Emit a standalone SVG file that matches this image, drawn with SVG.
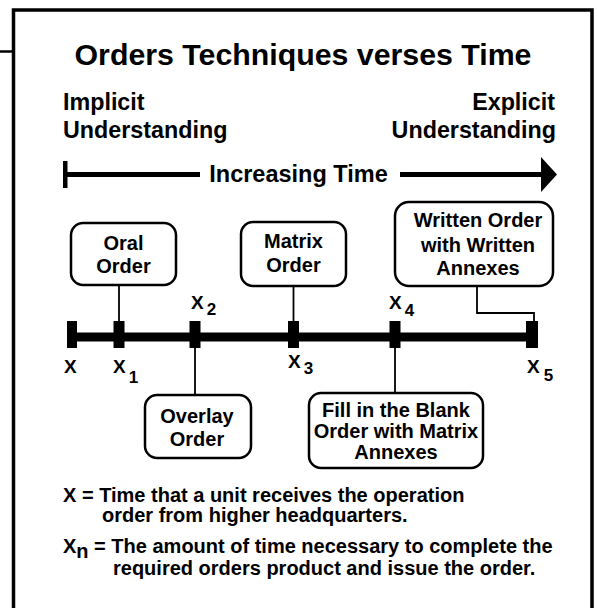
<svg xmlns="http://www.w3.org/2000/svg" width="597" height="608" viewBox="0 0 597 608">
<style>
text{font-family:"Liberation Sans",Arial,sans-serif;font-weight:bold;fill:#000}
.box{fill:#fff;stroke:#000;stroke-width:2.5}
.bt{font-size:20px;text-anchor:middle}
.lbl{font-size:19px}
.sub{font-size:17px}
.con{stroke:#000;stroke-width:1.8;fill:none}
.tick{fill:#000}
</style>
<rect width="597" height="608" fill="#fff"/>
<g id="frame">
<path d="M13.5,608 V10 H592 V608" fill="none" stroke="#000" stroke-width="3.5"/>
<line x1="0" y1="51.5" x2="13" y2="51.5" stroke="#000" stroke-width="2.5"/>
</g>
<text x="303" y="65" font-size="30.3" text-anchor="middle">Orders Techniques verses Time</text>
<text x="63" y="110" font-size="23.3">Implicit</text>
<text x="63" y="138" font-size="23.3">Understanding</text>
<text x="555" y="110" font-size="23.3" text-anchor="end">Explicit</text>
<text x="556" y="138" font-size="23.3" text-anchor="end">Understanding</text>
<g id="time-arrow">
<line x1="63" y1="174.5" x2="200" y2="174.5" stroke="#000" stroke-width="5"/>
<rect x="63" y="161" width="4.5" height="27" fill="#000"/>
<line x1="400" y1="174.5" x2="543" y2="174.5" stroke="#000" stroke-width="5"/>
<polygon points="541,157 557,174.5 541,192" fill="#000"/>
<text x="298.5" y="182" font-size="23.5" text-anchor="middle">Increasing Time</text>
</g>
<g id="timeline">
<rect x="70" y="332.5" width="465" height="9" fill="#000"/>
<rect class="tick" x="67" y="321" width="10" height="27"/>
<rect class="tick" x="113.5" y="321" width="11" height="27"/>
<rect class="tick" x="189.5" y="321" width="11" height="27"/>
<rect class="tick" x="288" y="321" width="11" height="27"/>
<rect class="tick" x="389.5" y="321" width="11" height="27"/>
<rect class="tick" x="526" y="321" width="12" height="27"/>
</g>
<g id="labels">
<text class="lbl" x="64" y="373">X</text>
<text class="lbl" x="113" y="373">X<tspan class="sub" dx="3" dy="10">1</tspan></text>
<text class="lbl" x="191" y="309">X<tspan class="sub" dx="3" dy="6">2</tspan></text>
<text class="lbl" x="288" y="368">X<tspan class="sub" dx="3" dy="6">3</tspan></text>
<text class="lbl" x="389" y="309">X<tspan class="sub" dx="3" dy="7">4</tspan></text>
<text class="lbl" x="527" y="373">X<tspan class="sub" dx="4" dy="8">5</tspan></text>
</g>
<g id="connectors">
<line class="con" x1="119" y1="285" x2="119" y2="321"/>
<line class="con" x1="293.5" y1="286" x2="293.5" y2="321"/>
<polyline class="con" points="477,286 477,313 534,313 534,321"/>
<line class="con" x1="195" y1="348" x2="195" y2="395"/>
<line class="con" x1="395" y1="348" x2="395" y2="393"/>
</g>
<g id="oral">
<rect class="box" x="71" y="223" width="105" height="62" rx="12"/>
<text class="bt" x="123.5" y="250">Oral</text>
<text class="bt" x="123.5" y="273">Order</text>
</g>
<g id="matrix">
<rect class="box" x="241" y="222" width="105" height="64" rx="12"/>
<text class="bt" x="293.5" y="248">Matrix</text>
<text class="bt" x="293.5" y="272">Order</text>
</g>
<g id="written">
<rect class="box" x="395" y="202" width="158" height="84" rx="14"/>
<text class="bt" x="478" y="227">Written Order</text>
<text class="bt" x="478" y="252">with Written</text>
<text class="bt" x="478" y="275">Annexes</text>
</g>
<g id="overlay">
<rect class="box" x="145" y="395" width="106" height="63" rx="12"/>
<text class="bt" x="197" y="423">Overlay</text>
<text class="bt" x="197" y="446">Order</text>
</g>
<g id="fill">
<rect class="box" x="309" y="393" width="174" height="75" rx="12"/>
<text class="bt" x="396" y="417">Fill in the Blank</text>
<text class="bt" x="396" y="438">Order with Matrix</text>
<text class="bt" x="396" y="459">Annexes</text>
</g>
<g id="legend">
<text x="63" y="502" font-size="20">X = Time that a unit receives the operation</text>
<text x="102" y="522" font-size="20">order from higher headquarters.</text>
<text x="63" y="553" font-size="20">X<tspan dy="5">n</tspan><tspan dy="-5"> = The amount of time necessary to complete the</tspan></text>
<text x="113" y="575" font-size="20">required orders product and issue the order.</text>
</g>
</svg>
